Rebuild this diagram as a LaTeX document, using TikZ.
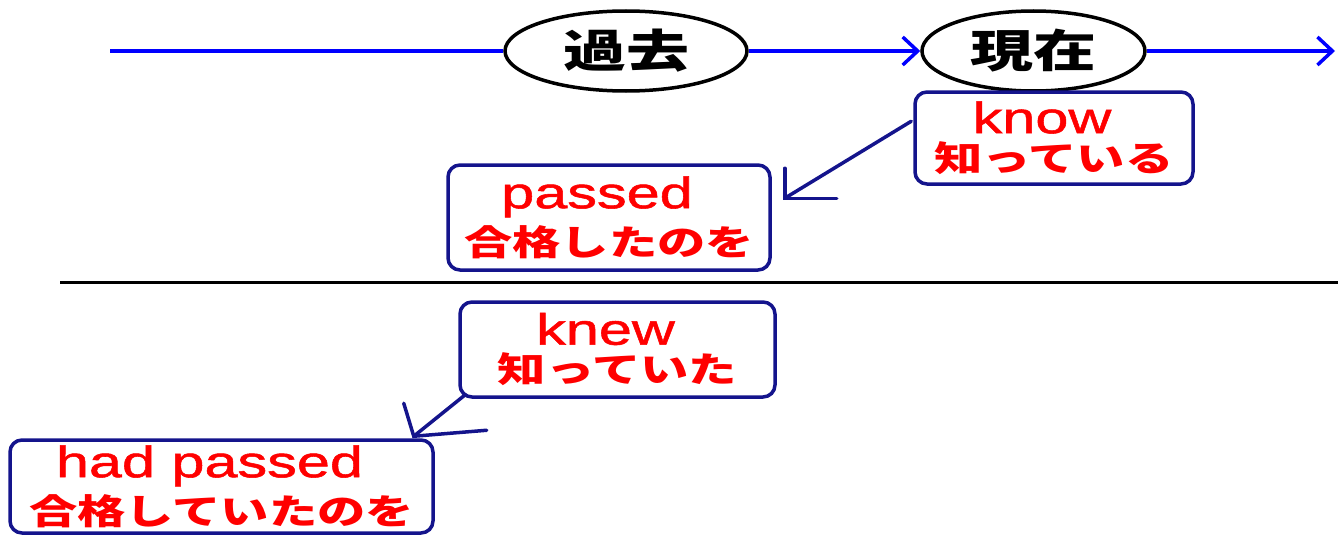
\documentclass[tikz,border=0pt]{standalone}
\usepackage{fontspec}
\newfontfamily\jpn[FakeStretch=1.38]{Noto Sans CJK JP}
\newfontfamily\jpt[FakeStretch=1.4]{Noto Sans CJK JP}
\newfontfamily\latw[FakeStretch=1.35,FakeBold=1.2]{Liberation Sans}
\usetikzlibrary{arrows.meta,calc,shapes.geometric}
\definecolor{tlblue}{RGB}{0,0,255}
\definecolor{boxnavy}{RGB}{20,20,140}
\definecolor{txtred}{RGB}{255,0,0}
\newcommand{\wordbig}[1]{{\latw\fontsize{44}{40}\selectfont #1\hspace*{24pt}}}
\newcommand{\wordjp}{\jpn\fontsize{35}{40}\selectfont\bfseries}
\begin{document}
\begin{tikzpicture}[x=1pt,y=-1pt,
  timeline/.style={draw=tlblue,line width=3.5pt},
  tltip/.style={-{Straight Barb[length=15pt,width=28pt,line width=3.5pt]}},
  era/.style={draw,ellipse,line width=3.5pt,inner sep=0pt,minimum height=80pt,
    font=\jpt\fontsize{45}{45}\selectfont\bfseries},
  wordbox/.style={draw=boxnavy,line width=3.5pt,rounded corners=12pt,inner sep=0pt,
    text=txtred,align=center},
  pointer/.style={draw=boxnavy,line width=3.5pt,line cap=round}]
\useasboundingbox (0,0) rectangle (1344,535);

% timeline
\node[era,minimum width=242pt] (past) at (626,51) {過去};
\node[era,minimum width=223pt] (present) at (1033.5,51) {現在};
\coordinate (tlstart) at (110,51);
\coordinate (tlend) at (1335,51);
\draw[timeline] (tlstart) -- (past.west);
\draw[timeline,tltip] (past.east) -- (present.west);
\draw[timeline,tltip] (present.east) -- (tlend);

% boxes
\node[wordbox,minimum width=278pt,minimum height=92pt] (know) at (1054,138)
  {\wordbig{know}\\[7pt]\wordjp 知っている};
\node[wordbox,minimum width=322pt,minimum height=105pt] (passed) at (609,217.5)
  {\wordbig{passed}\\[7pt]\wordjp 合格したのを};
\node[wordbox,minimum width=315pt,minimum height=95pt] (knew) at (617.5,349.5)
  {\wordbig{knew}\\[7pt]\wordjp 知っていた};
\node[wordbox,minimum width=423pt,minimum height=93pt] (hadpassed) at (221.5,486.5)
  {\wordbig{had passed}\\[7pt]\wordjp 合格していたのを};

% divider
\coordinate (divl) at (60,282);
\coordinate (divr) at (1338,282);
\draw[line width=3pt] (divl) -- (divr);

% pointer 1
\coordinate (p1s) at ($(know.north west)+(-2,31)$);
\coordinate (p1t) at ($(passed.north east)+(13,35)$);
\draw[pointer] (p1s) -- (p1t);
\draw[pointer] ($(p1t)+(0,-30)$) -- (p1t) -- ($(p1t)+(52,0)$);

% pointer 2
\coordinate (p2s) at ($(knew.south west)+(7,-4)$);
\coordinate (p2t) at ($(hadpassed.north east)+(-21,-2)$);
\draw[pointer] (p2s) -- (p2t);
\draw[pointer] ($(p2t)+(-10,-33)$) -- (p2t) -- ($(p2t)+(73,-6)$);
\end{tikzpicture}
\end{document}
